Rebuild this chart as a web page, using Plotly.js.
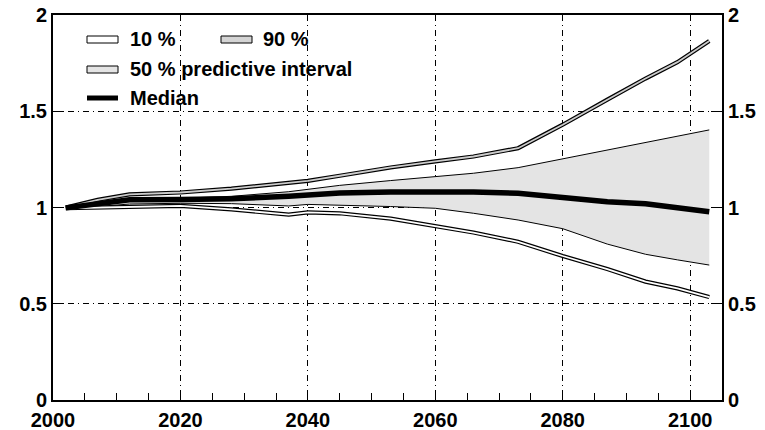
<!DOCTYPE html>
<html>
<head>
<meta charset="utf-8">
<script src="https://cdn.plot.ly/plotly-3.0.1.min.js"></script>
<style>
	html, body { margin: 0; padding: 0; background: #fff; }
	#chart { width: 765px; height: 430px; }
</style>
</head>
<body>
<div id="chart"></div>
<script>
// values, relative to 2000 level
const years = [2002, 2007, 2012, 2020, 2028, 2037, 2040, 2045, 2053, 2060, 2066, 2073, 2080, 2087, 2093, 2098, 2103];
const q90 = [1.0, 1.04, 1.068, 1.078, 1.098, 1.128, 1.138, 1.165, 1.208, 1.24, 1.265, 1.308, 1.43, 1.56, 1.67, 1.755, 1.865];
const p75 = [1.0, 1.02, 1.04, 1.048, 1.058, 1.082, 1.094, 1.115, 1.14, 1.162, 1.178, 1.207, 1.253, 1.298, 1.337, 1.37, 1.403];
const median = [0.998, 1.02, 1.04, 1.042, 1.045, 1.058, 1.065, 1.075, 1.08, 1.082, 1.08, 1.074, 1.05, 1.03, 1.02, 1.0, 0.978];
const p25 = [0.998, 1.005, 1.018, 1.022, 1.02, 1.008, 1.016, 1.012, 1.005, 0.996, 0.97, 0.935, 0.89, 0.81, 0.757, 0.728, 0.701];
const q10 = [0.996, 1.0, 1.005, 1.008, 0.99, 0.963, 0.975, 0.97, 0.942, 0.905, 0.87, 0.822, 0.748, 0.68, 0.615, 0.58, 0.535];

const legend_labels = ['10 %', '90 %', '50 % predictive interval', 'Median'];

const font = {family: '"Liberation Sans", Arial, sans-serif', size: 20, color: '#000', weight: 'bold'};
const grid_dash = '6px,4px,1px,4px';

// outlined band: thick black stroke with a thinner coloured one on top
function band(y, inner) {
	return [
		{x: years, y: y, mode: 'lines', hoverinfo: 'skip',
			line: {color: '#000', width: 4.2}},
		{x: years, y: y, mode: 'lines', hoverinfo: 'skip',
			line: {color: inner, width: 1.8}}
	];
}

let chart_data = [
	{x: years, y: p25, mode: 'lines', line: {color: '#000', width: 1}},
	{x: years, y: p75, mode: 'lines', fill: 'tonexty', fillcolor: '#e4e4e4',
		line: {color: '#000', width: 1}},
	...band(q10, '#ffffff'),
	...band(q90, '#cccccc'),
	{x: years, y: median, yaxis: 'y2', mode: 'lines', line: {color: '#000', width: 5.5}}
];

// hand-made legend, paper coordinates (plot area is 669 x 385 px)
const px = v => (v - 53) / 669;
const py = v => (400 - v) / 385;

function legend_rect(x0, y0, fill) {
	return {type: 'rect', xref: 'paper', yref: 'paper', x0: px(x0), x1: px(x0 + 31),
		y0: py(y0 + 7), y1: py(y0), fillcolor: fill, line: {color: '#000', width: 1}};
}

function legend_text(x, y, text) {
	return {xref: 'paper', yref: 'paper', x: px(x), y: py(y), xanchor: 'left', yanchor: 'middle',
		text: text, showarrow: false, font: font};
}

const chart_layout = {
	width: 765,
	height: 430,
	font: font,
	showlegend: false,
	paper_bgcolor: '#fff',
	plot_bgcolor: '#fff',
	margin: {l: 53, r: 43, t: 15, b: 30},
	xaxis: {
		range: [2000, 2105],
		tickvals: [2000, 2020, 2040, 2060, 2080, 2100],
		ticks: 'inside', ticklen: 9, tickcolor: '#000', ticklabelstandoff: 1,
		minor: {tickvals: [2005, 2010, 2015, 2025, 2030, 2035, 2045, 2050, 2055, 2065, 2070, 2075, 2085, 2090, 2095],
			ticks: 'inside', ticklen: 7, tickcolor: '#000', showgrid: false},
		showgrid: true, gridcolor: '#000', gridwidth: 1, griddash: grid_dash,
		showline: true, linecolor: '#000', linewidth: 2, mirror: true,
		zeroline: false, fixedrange: true
	},
	yaxis: {
		range: [0, 2],
		tickvals: [0, 0.5, 1, 1.5, 2],
		ticks: 'inside', ticklen: 11, tickcolor: '#000',
		showgrid: true, gridcolor: '#000', gridwidth: 1, griddash: grid_dash,
		showline: true, linecolor: '#000', linewidth: 2,
		zeroline: false, fixedrange: true
	},
	yaxis2: {
		range: [0, 2],
		overlaying: 'y', side: 'right',
		tickvals: [0, 0.5, 1, 1.5, 2],
		ticks: 'inside', ticklen: 11, tickcolor: '#000',
		showgrid: false, showline: true, linecolor: '#000', linewidth: 2,
		zeroline: false, fixedrange: true
	},
	shapes: [
		legend_rect(87, 36, '#ffffff'),
		legend_rect(221, 36, '#d4d4d4'),
		legend_rect(87, 66, '#e4e4e4'),
		{type: 'line', xref: 'paper', yref: 'paper', x0: px(87), x1: px(118), y0: py(98), y1: py(98),
			line: {color: '#000', width: 5}}
	],
	annotations: [
		legend_text(128, 39, legend_labels[0]),
		legend_text(261, 39, legend_labels[1]),
		legend_text(128, 69, legend_labels[2]),
		legend_text(128, 98, legend_labels[3])
	]
};

Plotly.newPlot('chart', chart_data, chart_layout, {displayModeBar: false, staticPlot: true});
</script>
</body>
</html>
